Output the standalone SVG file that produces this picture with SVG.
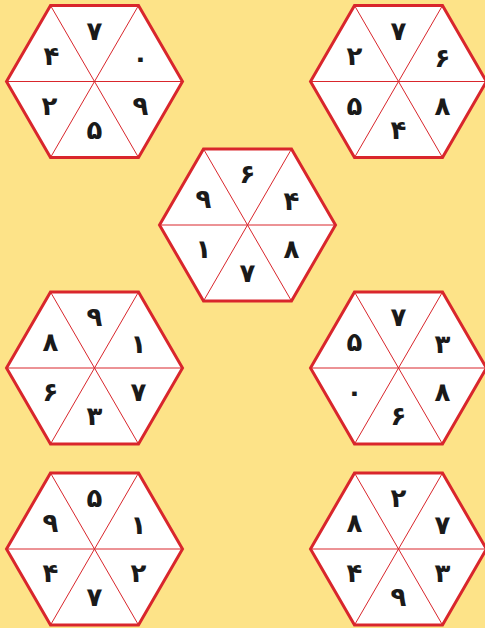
<svg xmlns="http://www.w3.org/2000/svg" xmlns:xlink="http://www.w3.org/1999/xlink" width="485" height="628" viewBox="0 0 485 628">
<style>
.bg{fill:#FDE388}
.hex{fill:#ffffff;stroke:#D9262C;stroke-width:3;stroke-linejoin:miter}
.spoke{stroke:#D9262C;stroke-width:1;fill:none}
.d{font-family:"DejaVu Sans",sans-serif;font-weight:bold;font-size:26px;fill:#1a1a1a;text-anchor:middle;dominant-baseline:central}
</style>
<defs>
<g id="hexShape">
<polygon class="hex" points="88,0 44,76 -44,76 -88,0 -44,-76 44,-76"/>
<path class="spoke" d="M-88,0 L88,0 M-44,-76 L44,76 M44,-76 L-44,76"/>
</g>
</defs>
<rect class="bg" x="0" y="0" width="485" height="628"/>
<g id="hex1" transform="translate(94.5,81.5)">
<use xlink:href="#hexShape"/>
<text class="d" x="0" y="-51">۷</text>
<text class="d" x="46" y="-24">۰</text>
<text class="d" x="46" y="24">۹</text>
<text class="d" x="0" y="48">۵</text>
<text class="d" x="-45" y="24">۲</text>
<text class="d" x="-43" y="-26">۴</text>
</g>
<g id="hex2" transform="translate(398.5,81.5)">
<use xlink:href="#hexShape"/>
<text class="d" x="0" y="-51">۷</text>
<text class="d" x="44" y="-24">۶</text>
<text class="d" x="44" y="24">۸</text>
<text class="d" x="0" y="48">۴</text>
<text class="d" x="-44" y="24">۵</text>
<text class="d" x="-44" y="-26">۲</text>
</g>
<g id="hex3" transform="translate(247.5,225)">
<use xlink:href="#hexShape"/>
<text class="d" x="0" y="-51">۶</text>
<text class="d" x="44" y="-24">۴</text>
<text class="d" x="44" y="24">۸</text>
<text class="d" x="0" y="48">۷</text>
<text class="d" x="-44" y="24">۱</text>
<text class="d" x="-44" y="-26">۹</text>
</g>
<g id="hex4" transform="translate(94.5,368)">
<use xlink:href="#hexShape"/>
<text class="d" x="0" y="-51">۹</text>
<text class="d" x="44" y="-24">۱</text>
<text class="d" x="44" y="24">۷</text>
<text class="d" x="0" y="48">۳</text>
<text class="d" x="-44" y="24">۶</text>
<text class="d" x="-44" y="-26">۸</text>
</g>
<g id="hex5" transform="translate(398.5,368)">
<use xlink:href="#hexShape"/>
<text class="d" x="0" y="-51">۷</text>
<text class="d" x="44" y="-24">۳</text>
<text class="d" x="44" y="24">۸</text>
<text class="d" x="0" y="48">۶</text>
<text class="d" x="-44" y="24">۰</text>
<text class="d" x="-44" y="-26">۵</text>
</g>
<g id="hex6" transform="translate(94.5,549)">
<use xlink:href="#hexShape"/>
<text class="d" x="0" y="-51">۵</text>
<text class="d" x="44" y="-24">۱</text>
<text class="d" x="44" y="24">۲</text>
<text class="d" x="0" y="48">۷</text>
<text class="d" x="-44" y="24">۴</text>
<text class="d" x="-44" y="-26">۹</text>
</g>
<g id="hex7" transform="translate(398.5,549)">
<use xlink:href="#hexShape"/>
<text class="d" x="0" y="-51">۲</text>
<text class="d" x="44" y="-24">۷</text>
<text class="d" x="44" y="24">۳</text>
<text class="d" x="0" y="48">۹</text>
<text class="d" x="-44" y="24">۴</text>
<text class="d" x="-44" y="-26">۸</text>
</g>
</svg>
